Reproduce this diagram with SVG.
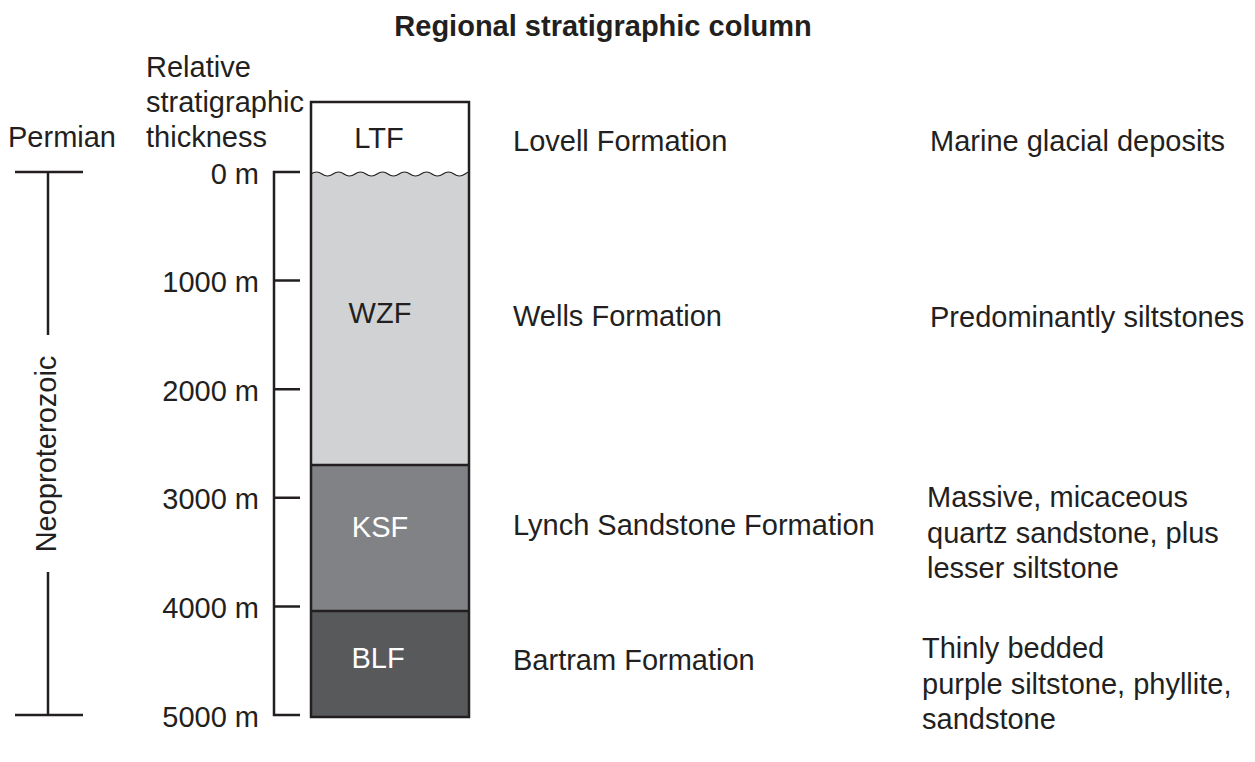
<svg xmlns="http://www.w3.org/2000/svg" width="1255" height="762" viewBox="0 0 1255 762">
<style>
text{font-family:"Liberation Sans",Arial,sans-serif;font-size:29px;fill:#231f20}
.t{font-weight:bold}
.w{fill:#ffffff}
.m{text-anchor:middle}
.e{text-anchor:end}
.ln{stroke:#231f20;stroke-width:2.5;fill:none}
.box{stroke:#231f20;stroke-width:2.5}
</style>
<rect width="1255" height="762" fill="#ffffff"/>
<text class="t m" x="603" y="36">Regional stratigraphic column</text>

<g id="period">
<line class="ln" x1="15" y1="172" x2="83" y2="172"/>
<line class="ln" x1="15" y1="715" x2="83" y2="715"/>
<line class="ln" x1="48" y1="172" x2="48" y2="335"/>
<line class="ln" x1="48" y1="572" x2="48" y2="715"/>
<text x="8" y="147">Permian</text>
<text class="m" transform="translate(56,454) rotate(-90)">Neoproterozoic</text>
</g>

<g id="scale">
<text x="146" y="77">Relative</text>
<text x="146" y="112">stratigraphic</text>
<text x="146" y="147">thickness</text>
<path class="ln" d="M300 172H274V715H300M274 280.6H300M274 389.2H300M274 497.8H300M274 606.4H300"/>
<text class="e" x="259" y="184">0 m</text>
<text class="e" x="259" y="292">1000 m</text>
<text class="e" x="259" y="401">2000 m</text>
<text class="e" x="259" y="509">3000 m</text>
<text class="e" x="259" y="618">4000 m</text>
<text class="e" x="259" y="727">5000 m</text>
</g>

<g id="column">
<g id="ltf">
<rect x="311" y="102" width="158" height="72" fill="#ffffff"/>
<text class="m" x="379" y="148">LTF</text>
</g>
<g id="wzf">
<path d="M311 174q5.5 -4 11 0t11 0t11 0t11 0t11 0t11 0t11 0t11 0t11 0t11 0t11 0t11 0t11 0t11 0t4 0V465H311Z" fill="#d1d2d4"/>
<path d="M311 174q5.5 -4 11 0t11 0t11 0t11 0t11 0t11 0t11 0t11 0t11 0t11 0t11 0t11 0t11 0t11 0t4 0" stroke="#231f20" stroke-width="1.2" fill="none"/>
<text class="m" x="380" y="323">WZF</text>
</g>
<g id="ksf">
<rect x="311" y="465" width="158" height="146" fill="#808285"/>
<text class="m w" x="380" y="537">KSF</text>
</g>
<g id="blf">
<rect x="311" y="611" width="158" height="106" fill="#58595b"/>
<text class="m w" x="378" y="668">BLF</text>
</g>
<path class="ln" d="M311 465H469M311 611H469"/>
<rect class="ln" x="311" y="102" width="158" height="615"/>
</g>

<g id="formations">
<text x="513" y="151">Lovell Formation</text>
<text x="513" y="326">Wells Formation</text>
<text x="513" y="535">Lynch Sandstone Formation</text>
<text x="513" y="670">Bartram Formation</text>
</g>

<g id="descriptions">
<text x="930" y="151">Marine glacial deposits</text>
<text x="930" y="327">Predominantly siltstones</text>
<text x="927" y="507">Massive, micaceous</text>
<text x="927" y="543">quartz sandstone, plus</text>
<text x="927" y="578">lesser siltstone</text>
<text x="922" y="658">Thinly bedded</text>
<text x="922" y="694">purple siltstone, phyllite,</text>
<text x="922" y="729">sandstone</text>
</g>
</svg>
